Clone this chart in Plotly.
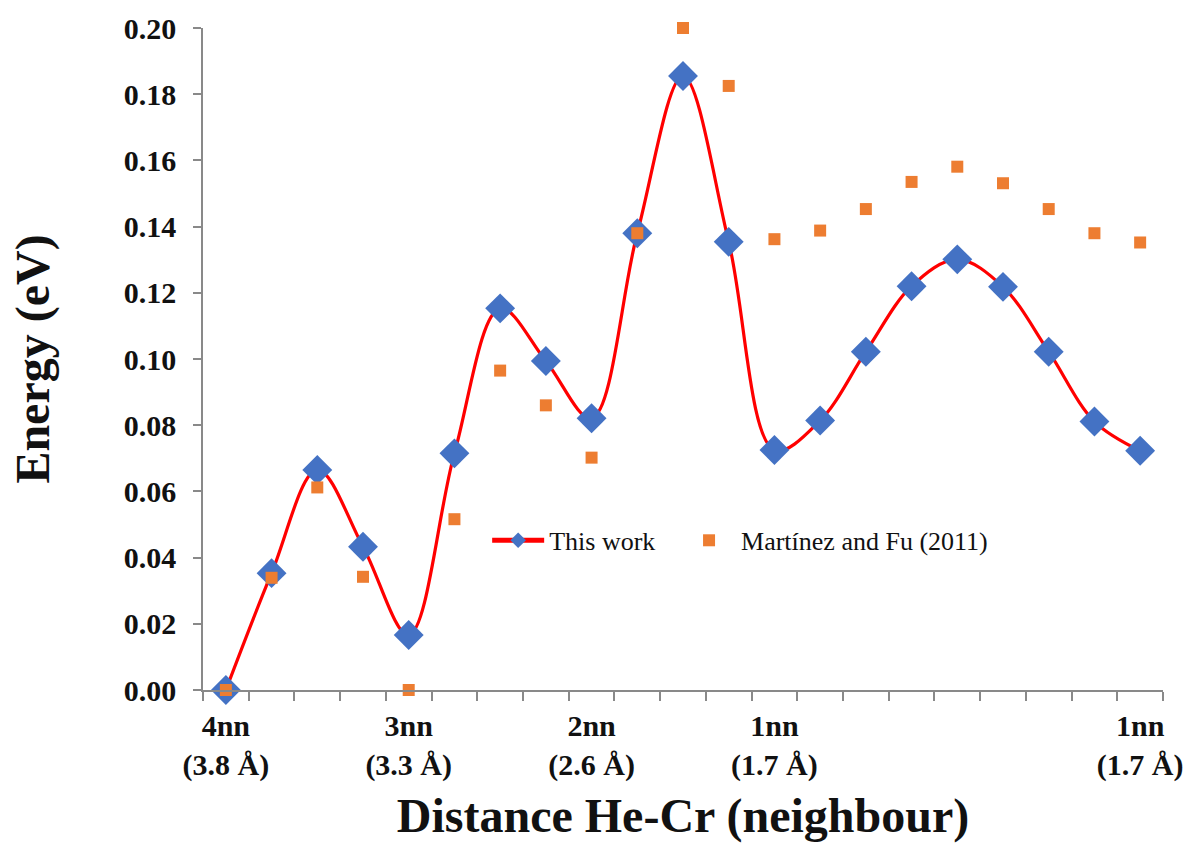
import plotly.graph_objects as go

x_pos = list(range(21))
this_work = [0.000, 0.0353, 0.0665, 0.0433, 0.0166, 0.0715, 0.1153, 0.0994, 0.0821,
             0.1380, 0.1855, 0.1354, 0.0725, 0.0814, 0.1022, 0.1220, 0.1301, 0.1218,
             0.1022, 0.0811, 0.0723]
martinez_fu = [0.000, 0.0339, 0.0612, 0.0342, 0.000, 0.0516, 0.0965, 0.0860, 0.0702,
               0.1380, 0.2000, 0.1825, 0.1362, 0.1388, 0.1453, 0.1535, 0.1581, 0.1531,
               0.1453, 0.1380, 0.1352]
tick_positions = [0, 4, 8, 12, 20]
tick_labels = ["4nn<br>(3.8 Å)", "3nn<br>(3.3 Å)", "2nn<br>(2.6 Å)", "1nn<br>(1.7 Å)", "1nn<br>(1.7 Å)"]
y_ticks = [0.00, 0.02, 0.04, 0.06, 0.08, 0.10, 0.12, 0.14, 0.16, 0.18, 0.20]

SERIF = "Liberation Serif, Times New Roman, serif"
AXIS_GREY = "#898989"
TEXT = "#111111"

fig = go.Figure()
fig.add_trace(go.Scatter(
    x=x_pos, y=this_work, name="This work", mode="lines+markers",
    line=dict(color="#FF0000", width=3.2, shape="spline", smoothing=1.0),
    marker=dict(symbol="diamond", size=23, color="#4472C4"),
    cliponaxis=False, legend="legend",
))
fig.add_trace(go.Scatter(
    x=x_pos, y=martinez_fu, name="Martínez and Fu (2011)", mode="markers",
    marker=dict(symbol="square", size=12, color="#ED7D31"),
    cliponaxis=False, legend="legend2",
))

legend_common = dict(
    orientation="h", yanchor="middle", y=0.226, xanchor="left",
    font=dict(family=SERIF, size=26, color=TEXT),
    bgcolor="rgba(0,0,0,0)", itemsizing="constant",
)

fig.update_layout(
    width=1192, height=848,
    margin=dict(l=203, r=29, t=28, b=158, autoexpand=False),
    paper_bgcolor="white", plot_bgcolor="white",
    font=dict(family=SERIF, color="#000000"),
    showlegend=True,
    legend=dict(x=0.296, itemwidth=52, **legend_common),
    legend2=dict(x=0.4938, itemwidth=54, **legend_common),
)
fig.update_xaxes(
    range=[-0.5, 20.5], showgrid=False, zeroline=False,
    showline=True, linecolor=AXIS_GREY, linewidth=1.5,
    tickmode="array", tickvals=tick_positions, ticktext=tick_labels,
    ticks="", ticklabelstandoff=8,
    tickfont=dict(family=SERIF, size=30, color=TEXT, weight="bold"),
    minor=dict(tick0=-0.5, dtick=1, ticks="outside", ticklen=9, tickcolor=AXIS_GREY, tickwidth=1.5, showgrid=False),
    title=dict(text="Distance He-Cr (neighbour)", standoff=18,
               font=dict(family=SERIF, size=48, color=TEXT, weight="bold")),
)
fig.update_yaxes(
    range=[0, 0.2], showgrid=False, zeroline=False,
    showline=True, linecolor=AXIS_GREY, linewidth=1.5,
    tickmode="array", tickvals=y_ticks, tickformat=".2f",
    ticks="outside", ticklen=8, tickcolor=AXIS_GREY, tickwidth=1.5,
    ticklabelstandoff=11,
    tickfont=dict(family=SERIF, size=30, color=TEXT, weight="bold"),
    title=dict(text="Energy (eV)", standoff=59,
               font=dict(family=SERIF, size=48, color=TEXT, weight="bold")),
)

fig.write_html("out.html")
